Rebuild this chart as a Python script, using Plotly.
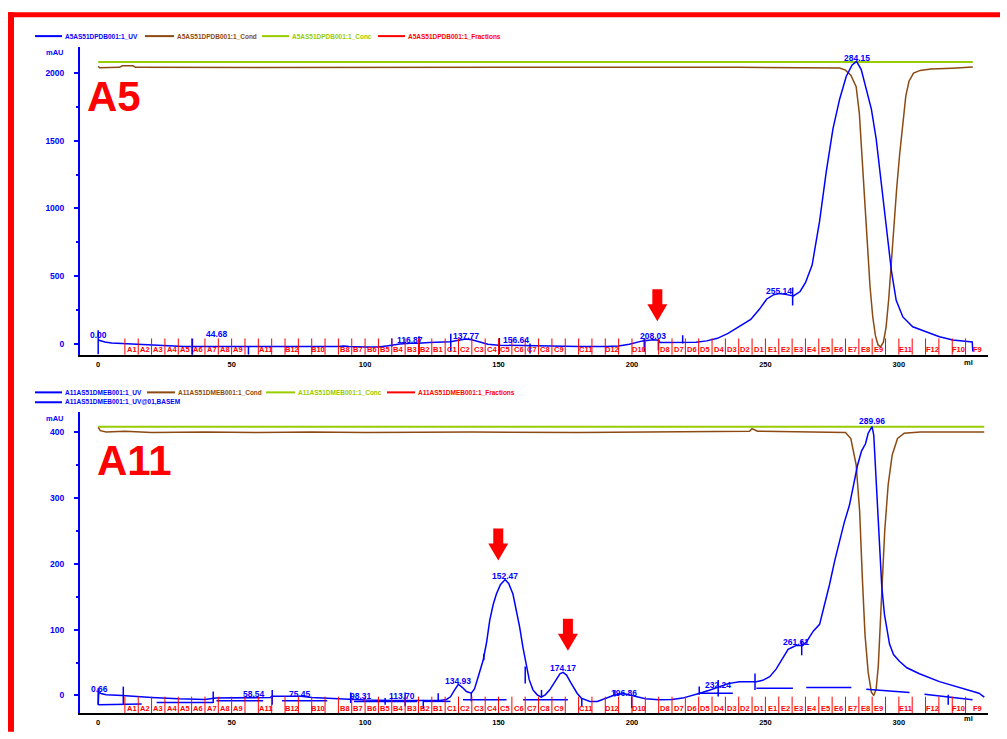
import plotly.graph_objects as go

# ---------------- data ----------------
# Top run (A5): UV trace (ml, mAU)
top_uv = [(0, 27), (0.5, 24), (1, 20), (2.5, 12), (5, 5), (10, 0), (15, -3), (20, -8), (25, -12),
          (28, -18), (32, -22), (40, -22), (55, -22), (56, -24), (65, -22), (75, -22), (90, -22),
          (92, -18), (94, -22), (100, -26), (105, -26), (108, -18), (110, -10), (113, -3), (117, 3),
          (120, 2), (124, 8), (128, 12), (132, 14), (135, 25), (137.77, 34), (140, 28), (143, 12),
          (146, -5), (150, -12), (155, -14), (160, -15), (162, -20), (170, -20), (180, -22),
          (190, -22), (195, -18), (199, -5), (204, 20), (208.03, 28), (210, 25), (210.5, 8),
          (215, 7), (220, 6), (224, 10), (228, 20), (232, 39), (236, 75), (240, 125), (244.5, 178),
          (247.8, 255), (250.5, 330), (253, 360), (255.14, 370), (258, 362), (260.5, 352),
          (263, 385), (265, 450), (267.5, 580), (270.3, 905), (272.8, 1271), (275.3, 1587),
          (277.8, 1807), (280.3, 1977), (282.5, 2060), (284.15, 2087), (285.9, 2026), (287.8, 1880),
          (289.7, 1734), (291.5, 1514), (293.4, 1197), (295.3, 880), (297.2, 539), (299, 320),
          (301.5, 197), (305.2, 124), (310.3, 88), (315.2, 51), (320.2, 27), (325.2, 15),
          (327.5, 12), (327.7, -58)]
top_cond = [(0, 2050), (0.5, 2040), (8, 2043), (9, 2054), (13, 2054), (14, 2043), (60, 2042),
            (120, 2044), (180, 2042), (240, 2043), (277.8, 2038), (280, 2022), (282, 1985),
            (284, 1900), (285.2, 1700), (286.3, 1350), (287.3, 1000), (288.3, 700), (289.2, 420),
            (290.2, 200), (291.2, 60), (292.2, -10), (293.2, -25), (294.2, 10), (295.2, 120),
            (296.2, 330), (297.2, 620), (298.2, 900), (299.2, 1150), (300.3, 1400), (301.5, 1640),
            (302.6, 1830), (303.8, 1940), (305.5, 2000), (308, 2020), (312, 2030), (320, 2036),
            (327.7, 2045)]
top_conc = [(0, 2083), (327.7, 2083)]

# Bottom run (A11)
bot_uv = [(0, -14), (0.2, 5), (1, 3), (3, 1), (9, 0), (12, -1), (20, -3), (30, -5), (40, -6),
          (44, -4), (50, -4), (56, -4), (62, -4), (64.5, -3), (65, -1), (70, -1), (76, -1),
          (80, -3), (85, -4), (90, -5), (95, -6), (100, -7), (110, -7.5), (120, -8), (128, -7.5),
          (130.5, -6), (132, -2), (133.5, 8), (134.93, 17), (136.5, 12), (138, 6), (139.8, 3.5),
          (141, 10), (142.5, 30), (144.2, 53), (145.5, 80), (146.7, 114), (148, 138), (149.2, 154),
          (150.7, 168), (152.47, 176), (153.8, 170), (155.4, 154), (156.5, 132), (157.9, 104),
          (159.2, 72), (160.4, 44), (161.5, 24), (162.9, 8.5), (164.5, 1), (166, -2.5),
          (167.5, 1), (169.2, 8.5), (171.5, 24), (173, 33), (174.17, 35), (175.5, 31), (177, 20),
          (177.9, 13.5), (179.5, 3), (181, -4), (184.2, -9), (187, -9), (190.4, -4), (193, 0),
          (196.86, 3), (200, 0), (205, -5), (210, -6.6), (215, -6), (219, -4), (222, -1),
          (225.4, 3.5), (229, 8), (232.8, 13.5), (236, 18), (240.3, 21), (246.6, 21), (249, 23),
          (251.6, 28.5), (254, 40), (256.6, 58.6), (258.5, 70), (260.3, 73.6), (261.61, 76),
          (264, 76), (265.5, 82), (266.5, 88.6), (268, 98), (270.3, 108), (272, 135), (274, 168),
          (276, 205), (277.8, 236), (279.5, 262), (281.5, 289), (283, 320), (284.5, 349),
          (286, 371), (287.5, 382), (288.5, 398), (289.96, 408), (290.6, 395), (291.2, 349),
          (292, 280), (292.7, 213), (293.6, 165), (294.6, 123), (296.5, 78), (298, 62),
          (300.2, 52), (303, 42), (307.7, 33), (315.2, 21), (322.7, 12.5), (328, 6), (330, 3.5),
          (332, -2.5)]
bot_cond = [(0, 407), (0.8, 402), (3, 400), (10, 401), (20, 399), (40, 400), (60, 399), (80, 400),
            (100, 399), (140, 400), (180, 399), (220, 400), (244, 401), (245, 405), (247, 401),
            (280, 399), (282, 390), (284, 350), (285.3, 280), (286.3, 180), (287.3, 93),
            (288.5, 35), (289.7, 5), (290.6, 0), (291.5, 10), (292.3, 45), (292.9, 93),
            (293.7, 170), (294.7, 250), (296, 320), (297.5, 365), (299.5, 390), (302, 398),
            (308, 400), (332, 400)]
bot_conc = [(0, 408), (332, 408)]
# UV@01,BASEM baseline segments (x0, x1, y0, y1)
bot_baseline = [(0, 16.3, -14, -13), (21.9, 43.1, -10.5, -10.5), (44.3, 61.8, -8, -8),
                (68.9, 85.8, -8, -8), (95.8, 119.5, -9, -9), (122, 132, -9, -9),
                (136.7, 153, -6.6, -6.6), (159.2, 176, -6.6, -6.6), (225.3, 237.8, 3.5, 3.5),
                (246.6, 260.3, 11, 11), (265.3, 282.2, 12, 12), (287.8, 304, 9.5, 4.5),
                (309.6, 327.6, 2, -6.6)]

# peak integration marks (x, y0, y1)
top_marks = [(0, -78, 98), (35.3, -85, 37), (56.3, -83, -24), (110, -24, 37), (120.2, -78, 54),
             (132.1, -53, 73), (150.3, -78, 41), (161.8, -73, 0), (204.6, -61, 37),
             (209.9, -49, 30), (219, 0, 61), (260.2, 281, 415)]
bot_marks = [(0, -14, 11), (9.4, -14, 13.5), (43.1, -11.5, 6), (65.2, -14, 8.4), (94.6, -11.5, 4.5),
             (107.5, -14, -4), (115, -16.5, 4.5), (121.8, -19, -6.6), (127.4, -9, 3.5),
             (139.8, -9, 3.5), (144.5, 53.5, 63.5), (160.0, 18, 44), (166.1, -2.5, 8.4),
             (181.2, -16.5, -4), (193.6, -1.5, 8.4), (199.9, -19, -1.5), (225.2, 1, 13.5),
             (232.3, -1.5, 23.4), (246.1, 8.4, 33.5), (263.6, 61, 83.5), (318.5, -14, 1)]

# peak labels (text, x, y)
top_peaks = [("0.00", 0, 61), ("44.68", 44.68, 69), ("116.87", 116.87, 25), ("137.77", 137.77, 54),
             ("156.64", 156.64, 25), ("208.03", 208.03, 54), ("255.14", 255.14, 391),
             ("284.15", 284.15, 2110)]
bot_peaks = [("0.66", 0.66, 10), ("58.54", 58.54, 2), ("75.45", 75.45, 3), ("98.31", 98.31, -0.5),
             ("113.70", 113.70, -0.5), ("134.93", 134.93, 22), ("152.47", 152.47, 182),
             ("174.17", 174.17, 41), ("196.86", 196.86, 4.5), ("232.24", 232.24, 16),
             ("261.61", 261.61, 81), ("289.96", 289.96, 416)]

# fractions (start ml, label)
fr_start = [10, 15, 20, 25, 30, 35, 40, 45, 50, 55, 60, 65, 70, 75, 80, 85, 90, 95, 100, 105, 110,
            115, 120, 125, 130, 135, 140, 145, 150, 155, 160, 165, 170, 175, 180, 185, 190, 195,
            200, 205, 210, 215, 220, 225, 230, 235, 240, 245, 250, 255, 260, 265, 270, 275, 280,
            285, 290, 295, 300, 305, 310, 315, 320, 325]
fr_label = ["A1", "A2", "A3", "A4", "A5", "A6", "A7", "A8", "A9", "", "A11", "", "B12", "", "B10", "",
            "B8", "B7", "B6", "B5", "B4", "B3", "B2", "B1", "C1", "C2", "C3", "C4", "C5", "C6", "C7",
            "C8", "C9", "", "C11", "", "D12", "", "D10", "", "D8", "D7", "D6", "D5", "D4", "D3", "D2",
            "D1", "E1", "E2", "E3", "E4", "E5", "E6", "E7", "E8", "E9", "", "E11", "", "F12", "",
            "F10", "F9"]
fr_end = 334

# arrows (x tip, y tip)
top_arrows = [(209.5, 166)]
bot_arrows = [(149.9, 205), (176.0, 68)]

x_ticks = [0, 50, 100, 150, 200, 250, 300]
top_yticks = [0, 500, 1000, 1500, 2000]
top_yminor = [250, 750, 1250, 1750]
bot_yticks = [0, 100, 200, 300, 400]
bot_yminor = [50, 150, 250, 350]

top_legend = ["A5AS51DPDB001:1_UV", "A5AS51DPDB001:1_Cond", "A5AS51DPDB001:1_Conc",
              "A5AS51DPDB001:1_Fractions"]
bot_legend = ["A11AS51DMEB001:1_UV", "A11AS51DMEB001:1_Cond", "A11AS51DMEB001:1_Conc",
              "A11AS51DMEB001:1_Fractions", "A11AS51DMEB001:1_UV@01,BASEM"]

# ---------------- styling ----------------
W, H = 1007, 739
ML, MR, MT, MB = 80, 19, 47, 19
PW = W - ML - MR
PH = H - MT - MB
BLUE = "#0000ff"
BROWN = "#8b4a12"
GREEN = "#99cc00"
RED = "#ff0000"
FONT = "Liberation Sans, Arial, sans-serif"


def px(xp):
    return (xp - ML) / PW


def py(yp):
    return (H - MB - yp) / PH


TOP_DOM = [py(358), py(47)]
BOT_DOM = [py(720), py(416)]
TOP_H = 358 - 47
BOT_H = 720 - 416


def unzip(pairs):
    return [p[0] for p in pairs], [p[1] for p in pairs]


fig = go.Figure()


def add_line(pairs, color, width, xa, ya):
    xs, ys = unzip(pairs)
    fig.add_trace(go.Scatter(x=xs, y=ys, mode="lines", line=dict(color=color, width=width),
                             xaxis=xa, yaxis=ya, hoverinfo="skip", showlegend=False))


def add_segments(segs, color, width, xa, ya):
    xs, ys = [], []
    for s in segs:
        xs += [s[0], s[1], None]
        ys += [s[2], s[3], None]
    fig.add_trace(go.Scatter(x=xs, y=ys, mode="lines", line=dict(color=color, width=width),
                             xaxis=xa, yaxis=ya, hoverinfo="skip", showlegend=False))


def add_marks(marks, xa, ya):
    segs = [(m[0], m[0], m[1], m[2]) for m in marks]
    add_segments(segs, BLUE, 1.5, xa, ya)


# top
add_line(top_conc, GREEN, 2, "x", "y")
add_line(top_cond, BROWN, 1.5, "x", "y")
add_line(top_uv, BLUE, 1.5, "x", "y")
add_marks(top_marks, "x", "y")
# bottom
add_line(bot_conc, GREEN, 2, "x2", "y2")
add_line(bot_cond, BROWN, 1.5, "x2", "y2")
add_segments(bot_baseline, BLUE, 1.5, "x2", "y2")
add_line(bot_uv, BLUE, 1.5, "x2", "y2")
add_marks(bot_marks, "x2", "y2")

shapes = []
annotations = []

# fractions
for xa, ya, hpx in (("x", "y", TOP_H), ("x2", "y2", BOT_H)):
    ends = fr_start[1:] + [fr_end]
    for s, e, lab in zip(fr_start, ends, fr_label):
        shapes.append(dict(type="line", xref=xa, yref=ya + " domain", x0=s, x1=s,
                           y0=0, y1=16.5 / hpx, line=dict(color=RED, width=1)))
        if lab:
            annotations.append(dict(text=lab, xref=xa, yref=ya + " domain", x=(s + e) / 2,
                                    y=5 / hpx, xanchor="center", yanchor="middle",
                                    showarrow=False,
                                    font=dict(family=FONT, size=7.5, color=RED, weight="bold")))

# peak labels
for xa, ya, peaks in (("x", "y", top_peaks), ("x2", "y2", bot_peaks)):
    for t, x, y in peaks:
        annotations.append(dict(text=t, xref=xa, yref=ya, x=x, y=y, xanchor="center",
                                yanchor="middle", showarrow=False,
                                font=dict(family=FONT, size=8.5, color=BLUE, weight="bold")))

# arrows
ARROW = "M0,0 L-10,17 L-5,17 L-5,32 L5,32 L5,17 L10,17 Z"
for xa, ya, arrs in (("x", "y", top_arrows), ("x2", "y2", bot_arrows)):
    for x, y in arrs:
        shapes.append(dict(type="path", xref=xa, yref=ya, xsizemode="pixel", ysizemode="pixel",
                           xanchor=x, yanchor=y, path=ARROW, fillcolor=RED,
                           line=dict(color=RED, width=0)))

# red frame
shapes.append(dict(type="rect", xref="paper", yref="paper", x0=px(8), x1=px(14), y0=py(739),
                   y1=py(12), fillcolor=RED, line=dict(width=0), layer="above"))
shapes.append(dict(type="rect", xref="paper", yref="paper", x0=px(8), x1=px(1000), y0=py(17),
                   y1=py(12), fillcolor=RED, line=dict(width=0), layer="above"))

# legends
leg_colors = [BLUE, BROWN, GREEN, RED]
top_leg_pos = [(35, 62), (145, 174), (262, 289), (378, 405)]
for (x0, x1), c, t in zip(top_leg_pos, leg_colors, top_legend):
    shapes.append(dict(type="line", xref="paper", yref="paper", x0=px(x0), x1=px(x1),
                       y0=py(36), y1=py(36), line=dict(color=c, width=2)))
    annotations.append(dict(text=t, xref="paper", yref="paper", x=px(x1 + 1), y=py(36),
                            xanchor="left", yanchor="middle", showarrow=False,
                            font=dict(family=FONT, size=6.5, color=c, weight="bold")))
bot_leg_pos = [(35, 62, 396), (147, 175, 396), (266, 295, 396), (387, 415, 396), (35, 62, 406)]
for (x0, x1, yy), c, t in zip(bot_leg_pos, leg_colors + [BLUE], bot_legend):
    shapes.append(dict(type="line", xref="paper", yref="paper", x0=px(x0), x1=px(x1),
                       y0=py(yy), y1=py(yy), line=dict(color=c, width=2)))
    annotations.append(dict(text=t, xref="paper", yref="paper", x=px(x1 + 1), y=py(yy),
                            xanchor="left", yanchor="middle", showarrow=False,
                            font=dict(family=FONT, size=6.5, color=c, weight="bold")))

# axis unit labels
for yy in (53, 422):
    annotations.append(dict(text="mAU", xref="paper", yref="paper", x=px(55), y=py(yy),
                            xanchor="center", yanchor="middle", showarrow=False,
                            font=dict(family=FONT, size=7.5, color=BLUE, weight="bold")))
for yy in (366, 726):
    annotations.append(dict(text="ml", xref="paper", yref="paper", x=px(968), y=py(yy),
                            xanchor="center", yanchor="middle", showarrow=False,
                            font=dict(family=FONT, size=7.5, color="black", weight="bold")))

# big panel labels
annotations.append(dict(text="A5", xref="paper", yref="paper", x=px(85), y=py(97),
                        xanchor="left", yanchor="middle", showarrow=False,
                        font=dict(family=FONT, size=42, color=RED, weight="bold")))
annotations.append(dict(text="A11", xref="paper", yref="paper", x=px(95), y=py(465),
                        xanchor="left", yanchor="middle", showarrow=False,
                        font=dict(family=FONT, size=42, color=RED, weight="bold")))

xaxis_common = dict(range=[-6.82, 333.4], showline=True, linecolor="black", linewidth=2,
                    ticks="", tickvals=x_ticks, showgrid=False, zeroline=False,
                    tickfont=dict(family=FONT, size=7.5, color="black", weight="bold"),
                    ticklabelstandoff=1)
yaxis_common = dict(showline=True, linecolor=BLUE, linewidth=2, ticks="outside", ticklen=4,
                    tickcolor=BLUE, tickwidth=1.5, showgrid=False, zeroline=False,
                    tickfont=dict(family=FONT, size=8.5, color=BLUE, weight="bold"),
                    ticklabelstandoff=8)

fig.update_layout(
    width=W, height=H, margin=dict(l=ML, r=MR, t=MT, b=MB),
    paper_bgcolor="white", plot_bgcolor="white", showlegend=False,
    xaxis=dict(domain=[0, 1], anchor="y", **xaxis_common),
    yaxis=dict(domain=TOP_DOM, anchor="x", range=[-82.7, 2193], tickvals=top_yticks,
               minor=dict(tickvals=top_yminor, ticks="outside", ticklen=2, tickcolor=BLUE),
               **yaxis_common),
    xaxis2=dict(domain=[0, 1], anchor="y2", **xaxis_common),
    yaxis2=dict(domain=BOT_DOM, anchor="x2", range=[-26.6, 430], tickvals=bot_yticks,
                minor=dict(tickvals=bot_yminor, ticks="outside", ticklen=2, tickcolor=BLUE),
                **yaxis_common),
    shapes=shapes, annotations=annotations,
)

fig.write_html("out.html")
